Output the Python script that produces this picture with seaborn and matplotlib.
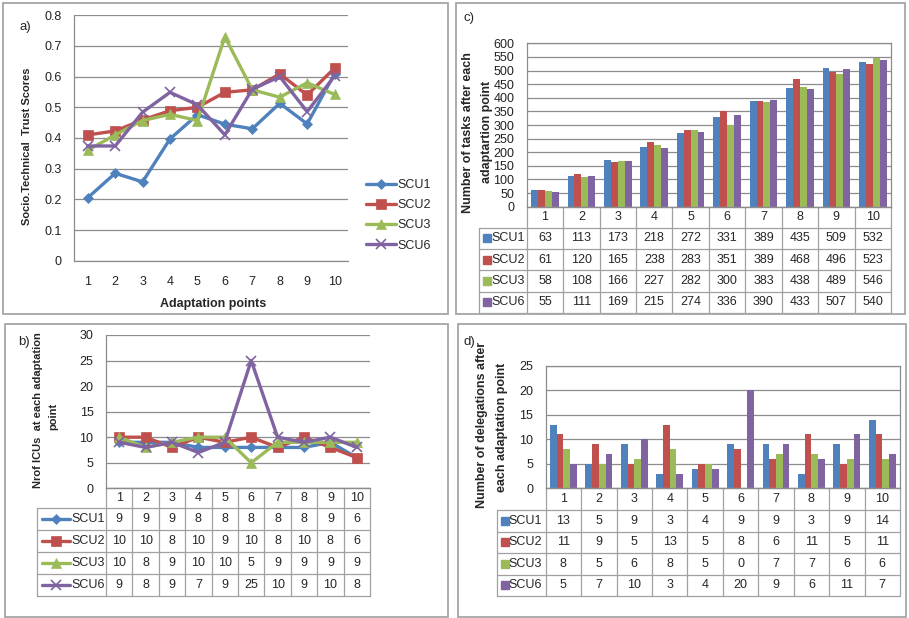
import numpy as np
import pandas as pd
import seaborn as sns
import matplotlib.pyplot as plt
from matplotlib.lines import Line2D
from matplotlib.patches import Rectangle

#-----------------------------
units = ['SCU1', 'SCU2', 'SCU3', 'SCU6']
points = [1, 2, 3, 4, 5, 6, 7, 8, 9, 10]
colors = ['#4F81BD', '#C0504D', '#9BBB59', '#8064A2']
markers = ['D', 's', '^', 'x']
msizes = [5, 6.5, 7, 7]

# a) socio-technical trust scores (read off the picture)
trust_scu1 = [0.205, 0.285, 0.257, 0.397, 0.476, 0.445, 0.430, 0.513, 0.446, 0.609]
trust_scu2 = [0.410, 0.423, 0.459, 0.489, 0.500, 0.549, 0.557, 0.609, 0.540, 0.628]
trust_scu3 = [0.360, 0.410, 0.457, 0.477, 0.457, 0.730, 0.557, 0.533, 0.580, 0.542]
trust_scu6 = [0.374, 0.374, 0.484, 0.549, 0.508, 0.410, 0.559, 0.600, 0.486, 0.602]

# b) number of ICUs at each adaptation point
icu_scu1 = [9, 9, 9, 8, 8, 8, 8, 8, 9, 6]
icu_scu2 = [10, 10, 8, 10, 9, 10, 8, 10, 8, 6]
icu_scu3 = [10, 8, 9, 10, 10, 5, 9, 9, 9, 9]
icu_scu6 = [9, 8, 9, 7, 9, 25, 10, 9, 10, 8]

# c) number of tasks after each adaptation point
task_scu1 = [63, 113, 173, 218, 272, 331, 389, 435, 509, 532]
task_scu2 = [61, 120, 165, 238, 283, 351, 389, 468, 496, 523]
task_scu3 = [58, 108, 166, 227, 282, 300, 383, 438, 489, 546]
task_scu6 = [55, 111, 169, 215, 274, 336, 390, 433, 507, 540]

# d) number of delegations after each adaptation point
del_scu1 = [13, 5, 9, 3, 4, 9, 9, 3, 9, 14]
del_scu2 = [11, 9, 5, 13, 5, 8, 6, 11, 5, 11]
del_scu3 = [8, 5, 6, 8, 5, 0, 7, 7, 6, 6]
del_scu6 = [5, 7, 10, 3, 4, 20, 9, 6, 11, 7]

trust = dict(zip(units, [trust_scu1, trust_scu2, trust_scu3, trust_scu6]))
icus = dict(zip(units, [icu_scu1, icu_scu2, icu_scu3, icu_scu6]))
tasks = dict(zip(units, [task_scu1, task_scu2, task_scu3, task_scu6]))
delegs = dict(zip(units, [del_scu1, del_scu2, del_scu3, del_scu6]))
#-----------------------------
W, H = 909, 618
GRID = '#8c8c8c'
TBL = '#a0a0a0'
FS = 9

sns.set_style('white')
plt.rcParams['font.family'] = ['Liberation Sans', 'DejaVu Sans']
fig = plt.figure(figsize=(W / 100, H / 100), dpi=100)


def box(l, t, r, b):
    return [l / W, 1 - b / H, (r - l) / W, (b - t) / H]


def fx(x):
    return x / W


def fy(y):
    return 1 - y / H


# panel frames
for l, t, r, b in [(3, 3, 448, 314), (456, 3, 905, 314), (5, 324, 448, 617), (458, 324, 906, 617)]:
    fig.add_artist(Rectangle((fx(l), fy(b)), (r - l) / W, (b - t) / H, transform=fig.transFigure,
                             fill=False, ec='#a6a6a6', lw=1.3))


def long_df(d):
    rows = []
    for u in units:
        for p, v in zip(points, d[u]):
            rows.append({'point': str(p), 'unit': u, 'value': v})
    return pd.DataFrame(rows)


def draw_lines(ax, d):
    for u, c, m, s in zip(units, colors, markers, msizes):
        sns.lineplot(x=np.arange(len(points)), y=d[u], color=c, marker=m, markersize=s,
                     markeredgecolor=c, markeredgewidth=1.2 if m == 'x' else 0.5,
                     linewidth=2.4, legend=False, ax=ax)


def draw_bars(ax, d):
    df = long_df(d)
    sns.barplot(data=df, x='point', y='value', hue='unit', palette=colors,
                order=[str(p) for p in points], width=0.76, saturation=1,
                linewidth=0, legend=False, ax=ax)


def style(ax, top, step, fmt='{:g}', box_all=False):
    ax.set_xlim(-0.5, 9.5)
    ax.set_ylim(0, top)
    ticks = np.arange(0, top + step / 2, step)
    ax.set_yticks(ticks)
    ax.set_yticklabels([fmt.format(t) for t in ticks])
    ax.yaxis.grid(True, color=GRID, lw=0.9)
    ax.set_axisbelow(True)
    ax.tick_params(length=0, labelsize=FS, colors='#222222', pad=9)
    for k, s in ax.spines.items():
        s.set_color(GRID)
        s.set_linewidth(0.9)
        if not box_all and k in ('top', 'right'):
            s.set_visible(False)
    ax.set_xlabel('')
    ax.set_ylabel('')


def table(ax, d, kind, label_px, hdr_px, row_px):
    pos = ax.get_position()
    cw = pos.width * W / 10
    ph = pos.height * H
    tr = ax.get_xaxis_transform()
    x0 = -0.5 - label_px / cw
    ys = [0, hdr_px] + [hdr_px + row_px * (i + 1) for i in range(len(units))]
    ys = [-y / ph for y in ys]
    kw = dict(transform=tr, clip_on=False, color=TBL, lw=0.9)
    for i, y in enumerate(ys):
        ax.plot([-0.5 if i == 0 else x0, 9.5], [y, y], **kw)
    for x in np.arange(-0.5, 10):
        ax.plot([x, x], [ys[0], ys[-1]], **kw)
    ax.plot([x0, x0], [ys[1], ys[-1]], **kw)
    for i, p in enumerate(points):
        ax.text(i, (ys[0] + ys[1]) / 2, str(p), transform=tr, ha='center', va='center', fontsize=FS)
    for r, (u, c, m, s) in enumerate(zip(units, colors, markers, msizes)):
        yc = (ys[r + 1] + ys[r + 2]) / 2
        for i, v in enumerate(d[u]):
            ax.text(i, yc, str(v), transform=tr, ha='center', va='center', fontsize=FS)
        if kind == 'line':
            ax.plot([x0 + 5 / cw, x0 + 33 / cw], [yc, yc], transform=tr, clip_on=False, color=c, lw=2.4)
            ax.plot([x0 + 19 / cw], [yc], transform=tr, clip_on=False, color=c, marker=m,
                    ms=s, mec=c, mew=1.2 if m == 'x' else 0.5)
            ax.text(x0 + 34 / cw, yc, u, transform=tr, ha='left', va='center', fontsize=FS)
        else:
            ax.plot([x0 + 8 / cw], [yc], transform=tr, clip_on=False, color=c, marker='s', ms=5.5, lw=0)
            ax.text(x0 + 12 / cw, yc, u, transform=tr, ha='left', va='center', fontsize=FS)


# ---------------- a)
axa = fig.add_axes(box(74, 15.3, 348.3, 260.7))
draw_lines(axa, trust)
style(axa, 0.8, 0.1)
axa.set_xticks(np.arange(len(points)))
axa.set_xticklabels([str(p) for p in points])
axa.tick_params(axis='x', pad=11)
handles = [Line2D([], [], color=c, marker=m, ms=s, mec=c, mew=1.2 if m == 'x' else 0.5, lw=2.4)
           for c, m, s in zip(colors, markers, msizes)]
axa.legend(handles, units, loc='upper left', bbox_to_anchor=(fx(366), fy(179)),
           bbox_transform=fig.transFigure, frameon=False, fontsize=FS, handlelength=2.4,
           handletextpad=0.1, labelspacing=0.66, borderpad=0, borderaxespad=0)
fig.text(fx(27), fy(146), 'Socio.Technical  Trust Scores', rotation=90, ha='center', va='center',
         fontsize=8, fontweight='bold')
fig.text(fx(213), fy(304), 'Adaptation points', ha='center', va='center', fontsize=9, fontweight='bold')
fig.text(fx(20), fy(27), 'a)', ha='left', va='center', fontsize=9.5)

# ---------------- c)
axc = fig.add_axes(box(526.7, 43.3, 891, 206.7))
draw_bars(axc, tasks)
style(axc, 600, 50, box_all=True)
axc.set_xticks([])
table(axc, tasks, 'square', 47.7, 21, 21.3)
fig.text(fx(468), fy(133), 'Number of tasks after each', rotation=90, ha='center', va='center',
         fontsize=9, fontweight='bold')
fig.text(fx(487), fy(132), 'adaptartion point', rotation=90, ha='center', va='center',
         fontsize=9, fontweight='bold')
fig.text(fx(464), fy(18), 'c)', ha='left', va='center', fontsize=9.5)

# ---------------- b)
axb = fig.add_axes(box(106, 335, 370, 488.3))
draw_lines(axb, icus)
style(axb, 30, 5)
axb.set_xticks([])
table(axb, icus, 'line', 69, 20, 21.9)
fig.text(fx(38), fy(410), 'Nrof ICUs  at each adaptation', rotation=90, ha='center', va='center',
         fontsize=8, fontweight='bold')
fig.text(fx(53), fy(416), 'point', rotation=90, ha='center', va='center',
         fontsize=8, fontweight='bold')
fig.text(fx(18), fy(342), 'b)', ha='left', va='center', fontsize=9.5)

# ---------------- d)
axd = fig.add_axes(box(545.7, 366, 900, 488.3))
draw_bars(axd, delegs)
style(axd, 25, 5, box_all=True)
axd.set_xticks([])
table(axd, delegs, 'square', 49, 21.7, 21.5)
fig.text(fx(482), fy(425), 'Number of delegations after', rotation=90, ha='center', va='center',
         fontsize=9, fontweight='bold')
fig.text(fx(502), fy(427), 'each adaptation point', rotation=90, ha='center', va='center',
         fontsize=9, fontweight='bold')
fig.text(fx(464), fy(342), 'd)', ha='left', va='center', fontsize=9.5)

fig.savefig('out.png', dpi=100)
